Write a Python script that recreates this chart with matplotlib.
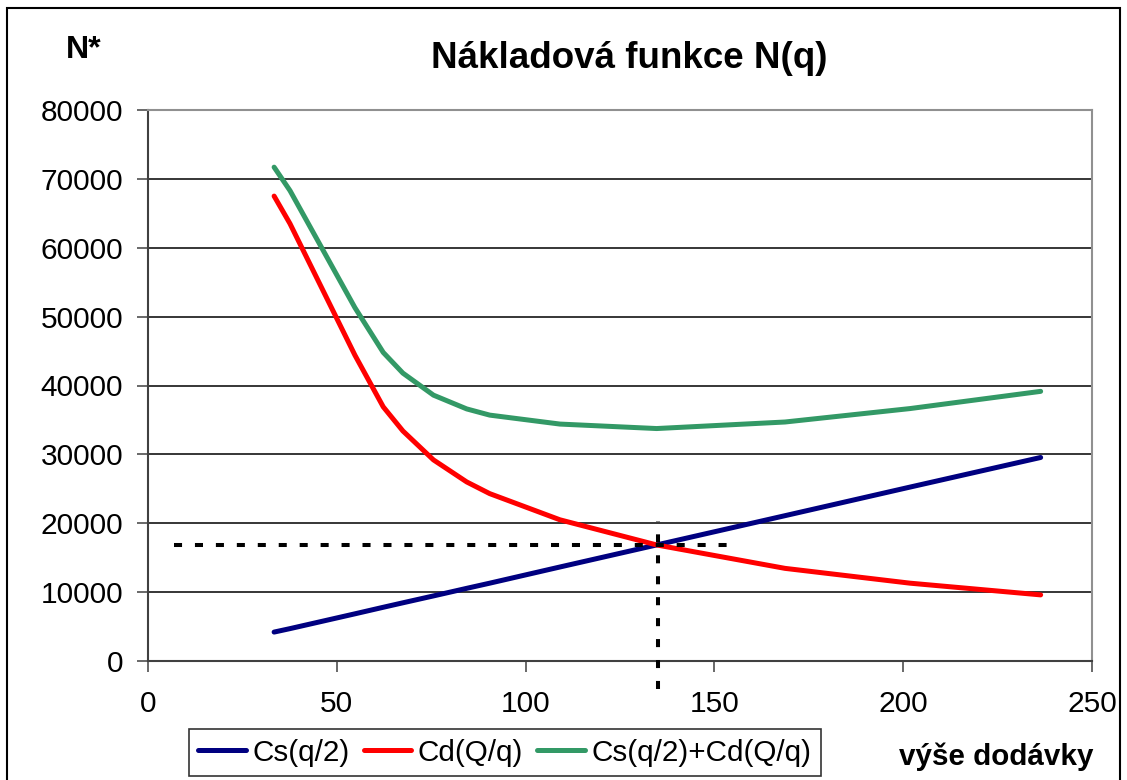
import matplotlib
matplotlib.use('Agg')
import matplotlib.pyplot as plt
from matplotlib.patches import Rectangle

# vyse dodavky q (body)
q = [33.4, 37.6, 54.8, 62.3, 67.5, 75.6, 84.4, 90.5, 109.1, 134.7, 168.7, 201.8, 236.4]
cs = [4200, 4700, 6850, 7800, 8450, 9450, 10550, 11300, 13650, 16850, 21100, 25250, 29550]
cd = [67500, 63500, 44400, 36900, 33400, 29200, 26000, 24300, 20500, 16850, 13450, 11300, 9600]
total = [71700, 68300, 51300, 44800, 41800, 38600, 36600, 35700, 34400, 33750, 34700, 36650, 39150]

labels = ['Cs(q/2)', 'Cd(Q/q)', 'Cs(q/2)+Cd(Q/q)']
colors = ['#000080', '#ff0000', '#339966']

# optimum (prusecik)
q_opt = 135
n_opt = 16800

plt.rcParams['font.family'] = ['Liberation Sans', 'DejaVu Sans']

fig = plt.figure(figsize=(11.27, 7.80), dpi=100)
ax = fig.add_axes([148 / 1127, 1 - 661 / 780, 944 / 1127, 551 / 780])

for y, lab, col in zip([cs, cd, total], labels, colors):
    ax.plot(q, y, color=col, lw=3.6, label=lab, solid_capstyle='round', zorder=3)

ax.plot([7, 154], [n_opt, n_opt], color='black', lw=2.9, dashes=(2.0, 3.2), zorder=4)
ax.plot([q_opt, q_opt], [-4000, 20300], color='black', lw=2.9, dashes=(2.0, 3.2),
        zorder=4, clip_on=False)

ax.set_xlim(0, 250)
ax.set_ylim(0, 80000)
ax.set_xticks(range(0, 251, 50))
ax.set_yticks(range(0, 80001, 10000))
ax.yaxis.grid(True, color='black', lw=1.1)
ax.set_axisbelow(True)
ax.tick_params(axis='y', labelsize=21.5, length=8, width=1.1, pad=10, color='#404040')
ax.tick_params(axis='x', labelsize=21.5, length=8, width=1.1, pad=13, color='#404040')
for s in ['top', 'right']:
    ax.spines[s].set_color('#909090')
    ax.spines[s].set_linewidth(1.5)
for s in ['left', 'bottom']:
    ax.spines[s].set_color('#404040')
    ax.spines[s].set_linewidth(1.5)

fig.text(629 / 1127, 1 - 58 / 780, 'Nákladová funkce N(q)', fontsize=26.5, fontweight='bold',
         ha='center', va='center')
fig.text(84 / 1127, 1 - 50 / 780, 'N*', fontsize=23, fontweight='bold',
         ha='center', va='center')
fig.text(996 / 1127, 1 - 757 / 780, 'výše dodávky', fontsize=21.3, fontweight='bold',
         ha='center', va='center')

leg = fig.legend(loc='lower left', bbox_to_anchor=(189 / 1127, 4 / 780),
                 ncol=3, fontsize=21.3, frameon=True, fancybox=False,
                 handlelength=1.6, handletextpad=0.23, columnspacing=0.47,
                 borderpad=0.32, borderaxespad=0)
leg.get_frame().set_edgecolor('black')
leg.get_frame().set_linewidth(1.2)

fig.patches.append(Rectangle((7 / 1127, -0.05), 1113 / 1127, 1.05 - 8 / 780,
                             transform=fig.transFigure, fill=False,
                             edgecolor='black', lw=1.5))

fig.savefig('out.png', dpi=100)
